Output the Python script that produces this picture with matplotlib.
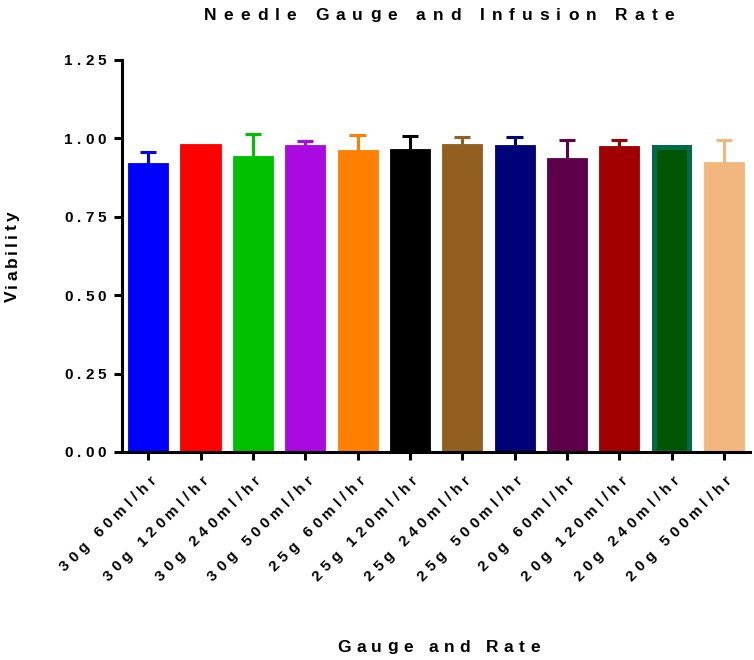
import numpy as np
import matplotlib.pyplot as plt
from matplotlib.font_manager import FontProperties, findfont, get_font
from matplotlib.transforms import IdentityTransform

labels = ["30g 60ml/hr", "30g 120ml/hr", "30g 240ml/hr", "30g 500ml/hr",
          "25g 60ml/hr", "25g 120ml/hr", "25g 240ml/hr", "25g 500ml/hr",
          "20g 60ml/hr", "20g 120ml/hr", "20g 240ml/hr", "20g 500ml/hr"]
viability = [0.921, 0.982, 0.943, 0.979, 0.963, 0.966,
             0.983, 0.979, 0.936, 0.975, 0.971, 0.926]
errors = [0.034, 0.0, 0.070, 0.011, 0.048, 0.042,
          0.020, 0.026, 0.058, 0.020, 0.002, 0.070]
fill_colors = ["#0000FF", "#FF0000", "#00C000", "#AA0AE0", "#FF8000", "#000000",
               "#935F20", "#000078", "#5E004A", "#A00000", "#005500", "#F2B77E"]
edge_colors = ["#0000FF", "#FF0000", "#00C000", "#AA0AE0", "#FF8000", "#000000",
               "#935F20", "#000078", "#5E004A", "#A00000", "#006B4A", "#F2B77E"]
yticks = [0, 0.25, 0.5, 0.75, 1.0, 1.25]
ytick_labels = ["0.00", "0.25", "0.50", "0.75", "1.00", "1.25"]

FAMILY = 'Liberation Sans'
plt.rcParams['font.family'] = [FAMILY, 'DejaVu Sans']

fig = plt.figure(figsize=(7.54, 6.6), dpi=100)
ax = fig.add_axes([0.1618, 0.3152, 0.833, 0.594])


def spaced(x, y, s, size, track, angle=0, ha='center'):
    # prism-style letter spacing: place glyphs one by one, in display pixels
    fp = FontProperties(family=FAMILY, weight='bold', size=size)
    font = get_font(findfont(fp))
    font.set_size(size, fig.dpi)
    adv = [font.load_char(ord(c)).linearHoriAdvance / 65536 for c in s]
    total = sum(adv) + track * (len(s) - 1)
    pos = {'left': 0, 'center': -total / 2, 'right': -total}[ha]
    c, sn = np.cos(np.radians(angle)), np.sin(np.radians(angle))
    for ch, a in zip(s, adv):
        if ch != ' ':
            fig.text(x + pos * c, y + pos * sn, ch, fontproperties=fp,
                     rotation=angle, rotation_mode='anchor', ha='left',
                     va='baseline', transform=IdentityTransform())
        pos += a + track


x = np.arange(len(labels))
cap_half = 0.155
for i in range(len(labels)):
    if errors[i] > 0:
        top = viability[i] + errors[i]
        ax.vlines(x[i], viability[i], top, color=fill_colors[i], lw=2.2, zorder=1)
        ax.hlines(top, x[i] - cap_half, x[i] + cap_half, color=fill_colors[i],
                  lw=2.2, zorder=1)
    if i == 10:
        ax.bar(x[i], viability[i], width=0.67, color=fill_colors[i],
               edgecolor=edge_colors[i], linewidth=3.6, zorder=2)
    else:
        ax.bar(x[i], viability[i], width=0.765, color=fill_colors[i],
               edgecolor=edge_colors[i], linewidth=0.6, zorder=2)

ax.set_xlim(-0.5, 11.5)
ax.set_ylim(0, 1.25)
ax.set_yticks(yticks)
ax.set_yticklabels([])
ax.set_xticks(x)
ax.set_xticklabels([])

for s in ['top', 'right']:
    ax.spines[s].set_visible(False)
for s in ['left', 'bottom']:
    ax.spines[s].set_linewidth(2.2)
ax.tick_params(axis='both', width=2.2, length=5.8)

# tick labels
fig.canvas.draw()
axis_left = ax.transAxes.transform((0, 0))[0]
axis_bottom = ax.transAxes.transform((0, 0))[1]
for v, lab in zip(yticks, ytick_labels):
    yd = ax.transData.transform((0, v))[1]
    spaced(axis_left - 16, yd - 5.5, lab, 11, 4.0, ha='right')
for xi, lab in zip(x, labels):
    xd = ax.transData.transform((xi, 0))[0]
    spaced(xd + 8.7, axis_bottom - 28.7, lab, 11, 4.5, angle=45, ha='right')

spaced(439, 640.5, "Needle Gauge and Infusion Rate", 12.5, 7.0)
spaced(438.5, 8.5, "Gauge and Rate", 12.5, 5.4)
spaced(17, 403, "Viability", 12.5, 3.0, angle=90)

plt.savefig("out.png", dpi=100)
